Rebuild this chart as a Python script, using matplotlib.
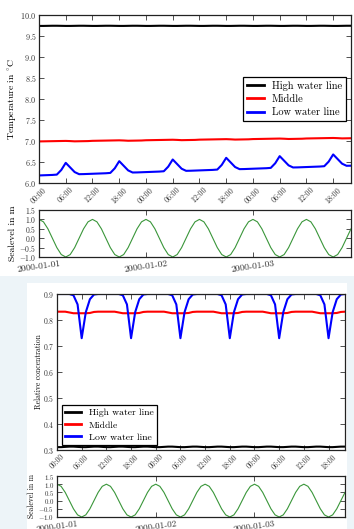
import numpy as np
import pandas as pd
import matplotlib
matplotlib.use('Agg')
import matplotlib.pyplot as plt
import matplotlib.dates as mdates
from matplotlib.patches import Rectangle

plt.rcParams['font.family'] = ['cmr10', 'DejaVu Serif']
plt.rcParams['mathtext.fontset'] = 'cm'
plt.rcParams['axes.formatter.use_mathtext'] = True

# hourly samples, 2000-01-01 00:00 .. 2000-01-03 22:00
hours = np.arange(71)
times = pd.Timestamp('2000-01-01') + pd.to_timedelta(hours, unit='h')

# one 12 h tidal cycle (hour 0..11) and the level of each of the 6 cycles
series_names = ['High water line', 'Middle', 'Low water line']

temp_black_shape = [0.0, 0.0, 0.002, 0.004, 0.004, 0.002, 0.0, 0.0, 0.002, 0.004, 0.004, 0.002]
temp_black_base = [9.74, 9.74, 9.74, 9.74, 9.74, 9.74]
temp_red_shape = [0.0, 0.002, 0.004, 0.006, 0.008, 0.010, 0.012, 0.008, 0.002, 0.004, 0.006, 0.008]
temp_red_base = [6.99, 7.004, 7.018, 7.032, 7.046, 7.06]
temp_blue_shape = [0.0, 0.004, 0.008, 0.012, 0.02, 0.13, 0.30, 0.19, 0.08, 0.03, 0.032, 0.036]
temp_blue_base = [6.18, 6.22, 6.26, 6.30, 6.34, 6.38]

conc_black_shape = [0.311, 0.311, 0.312, 0.313, 0.313, 0.312, 0.311, 0.311, 0.312, 0.313, 0.313, 0.312]
conc_red_shape = [0.832, 0.832, 0.832, 0.829, 0.826, 0.826, 0.826, 0.826, 0.827, 0.831, 0.832, 0.832]
conc_blue_shape = [0.9, 0.9, 0.9, 0.9, 0.895, 0.86, 0.73, 0.83, 0.88, 0.898, 0.9, 0.9]

sealevel_shape = [1.0, 0.87, 0.5, 0.0, -0.5, -0.87, -1.0, -0.87, -0.5, 0.0, 0.5, 0.87]


def build(shape, base=None):
    vals = np.tile(shape, 6)[:len(hours)]
    if base is not None:
        vals = vals + np.repeat(base, 12)[:len(hours)]
    return vals


temp = [build(temp_black_shape, temp_black_base),
        build(temp_red_shape, temp_red_base),
        build(temp_blue_shape, temp_blue_base)]
conc = [build(conc_black_shape), build(conc_red_shape), build(conc_blue_shape)]
sealevel = build(sealevel_shape)

colors = ['black', 'red', 'blue']
W, H = 354, 529


def frac(x0, y0, x1, y1):
    """pixel box (top-left origin) -> figure fraction rect"""
    return [x0 / W, 1 - y1 / H, (x1 - x0) / W, (y1 - y0) / H]


def style(ax, fs):
    ax.tick_params(direction='in', top=True, right=True, length=3.5, width=0.6,
                   labelsize=fs, colors='#333333', pad=2)
    for sp in ax.spines.values():
        sp.set_color('#222222')
        sp.set_linewidth(0.9)


def panel(fig, main_box, sea_box, data, ylim, yticks, ylabel, fs, sea_fs, lab_fs,
          leg_loc, leg_fs, ylab_x, sea_lab_x):
    ax = fig.add_axes(frac(*main_box))
    for vals, c, name in zip(data, colors, series_names):
        ax.plot(times, vals, color=c, lw=1.5, label=name)
    ax.set_xlim(times[0], times[-1])
    ax.set_ylim(*ylim)
    ax.set_yticks(yticks)
    ax.xaxis.set_major_locator(mdates.HourLocator(byhour=range(0, 24, 6)))
    ax.xaxis.set_major_formatter(mdates.DateFormatter('%H:%M'))
    style(ax, fs)
    plt.setp(ax.get_xticklabels(), rotation=45)
    ax.set_ylabel(ylabel, fontsize=lab_fs)
    ax.yaxis.set_label_coords(ylab_x, 0.5)
    leg = ax.legend(loc=leg_loc, fontsize=leg_fs, fancybox=False, framealpha=1,
                    edgecolor='black', handlelength=1.6, handletextpad=0.8,
                    labelspacing=0.35, borderpad=0.35)
    leg.get_frame().set_linewidth(0.9)
    for ln in leg.get_lines():
        ln.set_linewidth(2)

    sx = fig.add_axes(frac(*sea_box))
    sx.plot(times, sealevel, color='#3a963a', lw=0.8)
    sx.set_xlim(times[0], times[-1])
    sx.set_ylim(-1, 1.5)
    sx.set_yticks([-1.0, -0.5, 0.0, 0.5, 1.0, 1.5])
    sx.xaxis.set_major_locator(mdates.DayLocator())
    sx.xaxis.set_major_formatter(mdates.DateFormatter('%Y-%m-%d'))
    style(sx, sea_fs)
    plt.setp(sx.get_xticklabels(), rotation=8, fontsize=fs + 1)
    sx.set_ylabel('Sealevel in m', fontsize=lab_fs)
    sx.yaxis.set_label_coords(sea_lab_x, 0.5)


fig = plt.figure(figsize=(W / 100, H / 100), dpi=100, facecolor='#edf4f8')
fig.patches.append(Rectangle((0, 1 - 276 / H), 1, 276 / H, transform=fig.transFigure,
                             facecolor='white', edgecolor='none', zorder=-1))
fig.patches.append(Rectangle((27 / W, 0), 320 / W, 246 / H, transform=fig.transFigure,
                             facecolor='white', edgecolor='none', zorder=-1))

panel(fig, (39, 15, 351, 183), (39, 210, 351, 257), temp, (6, 10),
      np.arange(6, 10.01, 0.5), r'$\mathrm{Temperature\ in\ }^{\circ}\mathrm{C}$',
      5.8, 5.5, 7, 'center right', 7.5, -0.063, -0.07)
panel(fig, (57, 294, 345, 450), (57, 476, 345, 517), conc, (0.3, 0.9),
      np.arange(0.3, 0.901, 0.1), 'Relative concentration', 5.5, 5.0, 5.5,
      'lower left', 7, -0.05, -0.072)

fig.savefig('out.png', dpi=100, facecolor=fig.get_facecolor())
